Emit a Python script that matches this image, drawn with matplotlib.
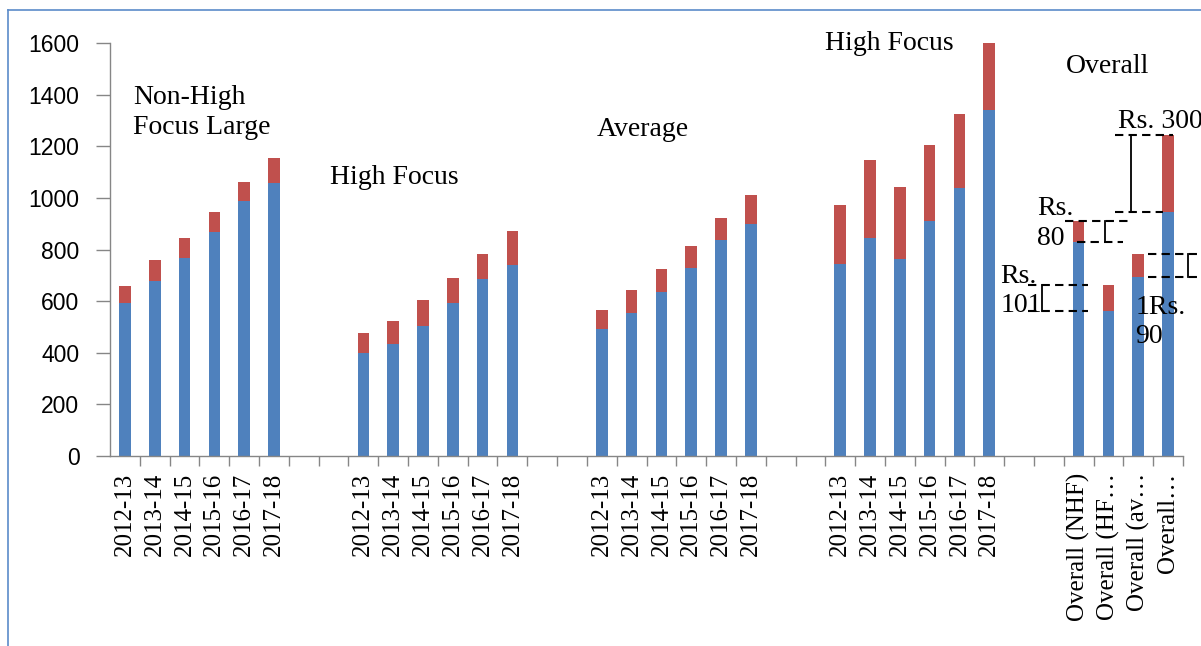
import matplotlib.pyplot as plt
import numpy as np

years = ['2012-13', '2013-14', '2014-15', '2015-16', '2016-17', '2017-18']
overall_names = ['Overall (NHF)', 'Overall (HF\u2026', 'Overall (av\u2026', 'Overall\u2026']

# lower (blue) and upper (red) segments of each stacked bar
nhf_base = [592, 680, 766, 869, 990, 1057]
nhf_extra = [68, 80, 80, 76, 72, 97]
hf_base = [398, 433, 503, 592, 685, 739]
hf_extra = [78, 91, 102, 98, 98, 133]
avg_base = [492, 554, 634, 729, 836, 898]
avg_extra = [74, 88, 91, 85, 85, 112]
hf2_base = [743, 844, 762, 910, 1038, 1340]
hf2_extra = [229, 303, 281, 294, 288, 260]
overall_base = [829, 561, 693, 945]
overall_extra = [80, 101, 90, 300]

blocks = [
    (years, nhf_base, nhf_extra),
    (years, hf_base, hf_extra),
    (years, avg_base, avg_extra),
    (years, hf2_base, hf2_extra),
    (overall_names, overall_base, overall_extra),
]

xs, base, extra, labels = [], [], [], []
pos = 0
for names, b, e in blocks:
    for k in range(len(b)):
        xs.append(pos + k)
        base.append(b[k])
        extra.append(e[k])
        labels.append(names[k])
    pos += len(b) + 2
n_slots = pos - 2
xs = np.array(xs)
base = np.array(base)
extra = np.array(extra)
top = base + extra

fig = plt.figure(figsize=(12.01, 6.46), dpi=100)
ax = fig.add_axes([110 / 1201, 190 / 646, 1073 / 1201, 412.8 / 646])

ax.bar(xs, base, width=0.39, color='#4F81BD', zorder=2)
ax.bar(xs, extra, bottom=base, width=0.39, color='#C0504D', zorder=2)

ax.set_xlim(-0.5, n_slots - 0.5)
ax.set_ylim(0, 1600)
ax.set_yticks(range(0, 1601, 200))
ax.set_yticklabels([str(v) for v in range(0, 1601, 200)],
                   fontsize=16.5, family='Liberation Sans')
ax.tick_params(axis='y', length=10, width=1, color='#868686', pad=12)

ax.set_xticks(xs)
ax.set_xticklabels(labels, rotation=90, fontsize=18, family='Liberation Serif',
                   va='top', ha='center')
ax.set_xticks(np.arange(0.5, n_slots, 1), minor=True)
ax.tick_params(axis='x', which='major', length=0, pad=12)
ax.tick_params(axis='x', which='minor', length=7, width=1, color='#868686')

for s in ['top', 'right']:
    ax.spines[s].set_visible(False)
for s in ['left', 'bottom']:
    ax.spines[s].set_color('#868686')
    ax.spines[s].set_linewidth(1)

serif = dict(family='Liberation Serif', fontsize=20, linespacing=1.25,
             clip_on=False, va='center', ha='left')
ax.text(0.27, 1331, 'Non-High\nFocus Large', **serif)
ax.text(6.88, 1081, 'High Focus', **serif)
ax.text(15.84, 1264, 'Average', **serif)
ax.text(23.49, 1597, 'High Focus', **serif)
ax.text(31.58, 1508, 'Overall', **serif)

dash = dict(color='black', lw=1.5, ls=(0, (4, 2.5)), clip_on=False, zorder=4)
solid = dict(color='black', lw=1.3, clip_on=False, zorder=4)


def bracket(i, top_span, low_span, x_vert):
    """dashed lines at the top and the base of the red segment of bar i,
    joined by a vertical stroke"""
    ax.plot(top_span, [top[i], top[i]], **dash)
    ax.plot(low_span, [base[i], base[i]], **dash)
    ax.plot([x_vert, x_vert], [top[i], base[i]], **solid)


ov = len(xs) - 4  # first overall bar
bracket(ov + 3, [33.22, 35.17], [33.22, 34.83], 33.75)
bracket(ov, [31.55, 33.66], [31.95, 33.49], 32.89)
bracket(ov + 1, [30.3, 32.32], [30.3, 32.32], 30.77)
bracket(ov + 2, [34.33, 36.07], [34.33, 36.07], 35.68)

ax.text(33.33, 1295, 'Rs. 300', **serif)
ax.text(30.61, 901, 'Rs.\n80', **serif)
ax.text(29.37, 640, 'Rs.\n101', **serif)
ax.text(33.9, 519, '1Rs.\n90', **serif)

# chart-area frame
fig.add_artist(plt.Line2D([8 / 1201, 8 / 1201], [0, 636 / 646],
                          transform=fig.transFigure, color='#5B8BC9', lw=1.2))
fig.add_artist(plt.Line2D([8 / 1201, 1], [636 / 646, 636 / 646],
                          transform=fig.transFigure, color='#5B8BC9', lw=1.2))

fig.savefig('out.png', dpi=100)
